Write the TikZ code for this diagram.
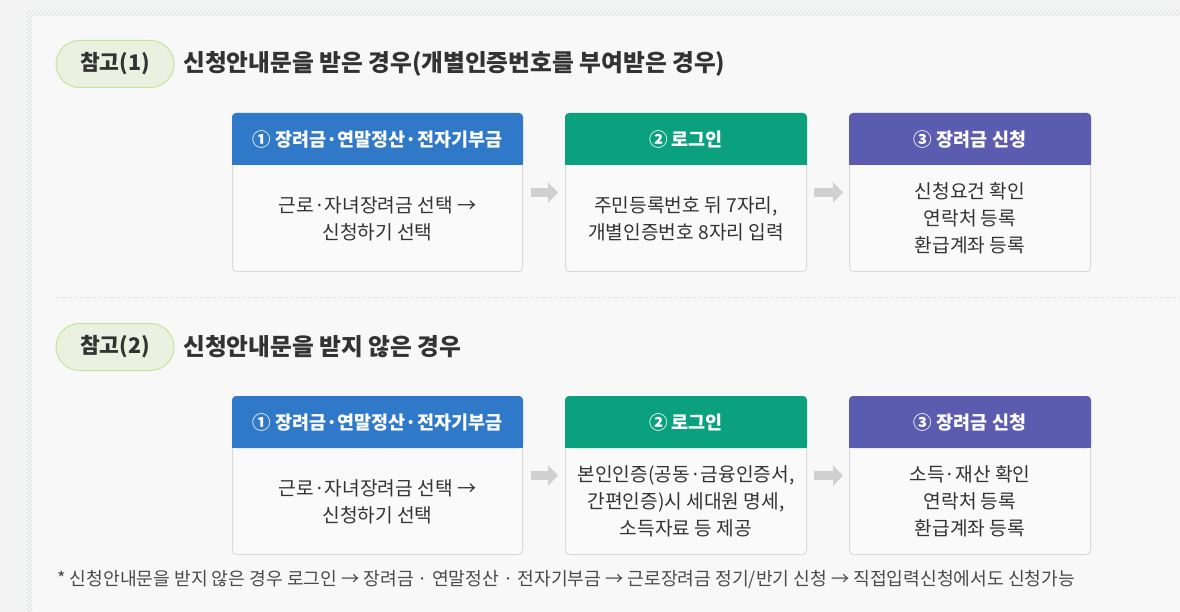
\documentclass[tikz,border=0pt]{standalone}
\usepackage{fontspec}
\setmainfont{Noto Sans CJK KR}
\usetikzlibrary{arrows.meta,calc}
\definecolor{outerbg}{HTML}{F4F4F4}
\definecolor{innerbg}{HTML}{F8F8F8}
\definecolor{hatchc}{HTML}{DCE2E2}
\definecolor{txt}{HTML}{333333}
\definecolor{notec}{HTML}{4A4A4A}
\definecolor{blueH}{HTML}{3079C9}
\definecolor{greenH}{HTML}{0BA17F}
\definecolor{purpleH}{HTML}{5B5CB0}
\definecolor{bodyfill}{HTML}{FAFAFA}
\definecolor{bodyline}{HTML}{DADADA}
\definecolor{pillfill}{HTML}{EAF1E1}
\definecolor{pillline}{HTML}{C6E49A}
\definecolor{arrowc}{HTML}{D0D0D0}
\definecolor{sepc}{HTML}{D6D6D6}
\tikzset{
  pill/.style={draw=pillline, fill=pillfill, line width=1pt, rounded corners=23.5pt,
    minimum width=118pt, minimum height=47pt, inner sep=0pt, text=txt,
    font=\bfseries\fontsize{21.5}{24}\selectfont},
  titletext/.style={anchor=west, inner sep=0pt, text=txt,
    font=\bfseries\fontsize{23.7}{26}\selectfont},
  cardbody/.style={draw=bodyline, fill=bodyfill, line width=1pt, rounded corners=4pt, inner sep=0pt},
  headtext/.style={text=white, inner sep=0pt, font=\bfseries\fontsize{18.5}{22}\selectfont},
  bodytext/.style={text=txt, align=center, inner sep=0pt, font=\fontsize{19.2}{27}\selectfont},
  flow/.style={draw=arrowc, line width=9pt, -{Triangle[width=20pt,length=10pt]}},
  notetext/.style={anchor=west, inner sep=0pt, text=notec, font=\fontsize{18.2}{22}\selectfont},
}
\newcommand\stepcard[7]{%
  \node[cardbody, minimum width=#4, minimum height=158pt, anchor=north west] (#1) at (#2,#3) {};
  \fill[#5, rounded corners=4pt] (#1.north west) rectangle ([yshift=-52pt]#1.north east);
  \fill[#5] ([yshift=-30pt]#1.north west) rectangle ([yshift=-52pt]#1.north east);
  \node[headtext] (#1h) at ([yshift=-26pt]#1.north) {#6};
  \node[bodytext] (#1t) at ($(#1.south)!0.5!([yshift=-52pt]#1.north)$) {#7};
}
\begin{document}
\begin{tikzpicture}[x=1pt,y=-1pt]
\useasboundingbox (0,0) rectangle (1180,612);
\fill[outerbg] (0,0) rectangle (1180,612);
\fill[innerbg] (26,10) rectangle (1180,612);
\begin{scope}
  \clip (26,10) rectangle (1180,16) (26,10) rectangle (32,612);
  \foreach \i in {0,4,...,1220} \draw[hatchc, line width=0.9pt] (\i,0) -- ++(-660,660);
\end{scope}

% section 1
\node[pill] (p1) at (115,64) {참고(1)};
\node[titletext] (t1) at (183,64) {신청안내문을 받은 경우(개별인증번호를 부여받은 경우)};

\stepcard{a1}{232}{113}{290pt}{blueH}{① 장려금·연말정산·전자기부금}{근로·자녀장려금 선택 →\\신청하기 선택}
\stepcard{a2}{565}{113}{241pt}{greenH}{② 로그인}{주민등록번호 뒤 7자리,\\개별인증번호 8자리 입력}
\stepcard{a3}{849}{113}{241pt}{purpleH}{③ 장려금 신청}{신청요건 확인\\연락처 등록\\환급계좌 등록}
\draw[flow] ([xshift=8pt]a1.east) -- ([xshift=-7pt]a2.west);
\draw[flow] ([xshift=7pt]a2.east) -- ([xshift=-6pt]a3.west);

\draw[sepc, line width=1pt, dotted] (56,297) -- (1180,297);

% section 2
\node[pill] (p2) at (115,347) {참고(2)};
\node[titletext] (t2) at (183,347) {신청안내문을 받지 않은 경우};

\stepcard{b1}{232}{396}{290pt}{blueH}{① 장려금·연말정산·전자기부금}{근로·자녀장려금 선택 →\\신청하기 선택}
\stepcard{b2}{565}{396}{241pt}{greenH}{② 로그인}{본인인증(공동·금융인증서,\\간편인증)시 세대원 명세,\\소득자료 등 제공}
\stepcard{b3}{849}{396}{241pt}{purpleH}{③ 장려금 신청}{소득·재산 확인\\연락처 등록\\환급계좌 등록}
\draw[flow] ([xshift=8pt]b1.east) -- ([xshift=-7pt]b2.west);
\draw[flow] ([xshift=7pt]b2.east) -- ([xshift=-6pt]b3.west);

\node[notetext] (fn) at (57,580) {* 신청안내문을 받지 않은 경우 로그인 → 장려금 · 연말정산 · 전자기부금 → 근로장려금 정기/반기 신청 → 직접입력신청에서도 신청가능};
\end{tikzpicture}
\end{document}
